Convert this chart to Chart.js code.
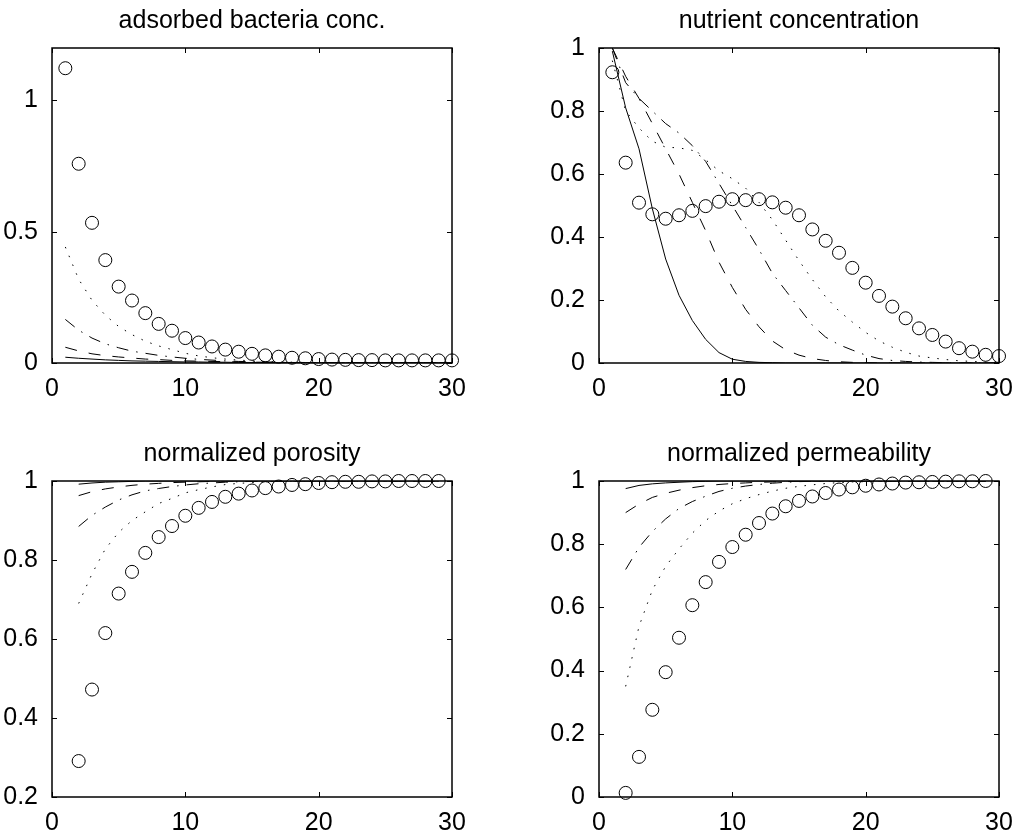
<!DOCTYPE html>
<html>
<head>
<meta charset="utf-8">
<title>Bacteria transport profiles</title>
<script src="https://cdn.jsdelivr.net/npm/chart.js@4.4.0/dist/chart.umd.min.js"></script>
<style>
    body { margin: 0; background: #fff; }
    #figure { position: relative; width: 1016px; height: 831px; }
    #figure canvas { position: absolute; }
</style>
</head>
<body>
<div id="figure">
    <canvas id="bacteriaChart" width="500" height="400" style="left:0;top:0"></canvas>
    <canvas id="nutrientChart" width="516" height="400" style="left:500px;top:0"></canvas>
    <canvas id="porosityChart" width="500" height="431" style="left:0;top:400px"></canvas>
    <canvas id="permeabilityChart" width="516" height="431" style="left:500px;top:400px"></canvas>
</div>
<script>
// Grid points
const xTop = [1, 2, 3, 4, 5, 6, 7, 8, 9, 10, 11, 12, 13, 14, 15, 16, 17, 18, 19, 20, 21, 22, 23, 24, 25, 26, 27, 28, 29, 30];
const xBottom = [2, 3, 4, 5, 6, 7, 8, 9, 10, 11, 12, 13, 14, 15, 16, 17, 18, 19, 20, 21, 22, 23, 24, 25, 26, 27, 28, 29];

// Tick labels
const xTicks = [0, 10, 20, 30];
const bacteriaTicks = [0, 0.5, 1];
const nutrientTicks = [0, 0.2, 0.4, 0.6, 0.8, 1];
const porosityTicks = [0.2, 0.4, 0.6, 0.8, 1];
const permeabilityTicks = [0, 0.2, 0.4, 0.6, 0.8, 1];

// adsorbed bacteria conc. (solid, dashed, dash-dot, dotted, circles)
const bacteriaSolid = [0.022, 0.018, 0.015, 0.012, 0.010, 0.008, 0.007, 0.006, 0.005, 0.004, 0.004, 0.003, 0.003, 0.002, 0.002, 0.002, 0.001, 0.001, 0.001, 0.001, 0.001, 0.001, 0.001, 0.001, 0.001, 0.001, 0.001, 0.001, 0.001, 0.001];
const bacteriaDashed = [0.060, 0.046, 0.035, 0.028, 0.023, 0.019, 0.015, 0.013, 0.010, 0.008, 0.007, 0.006, 0.005, 0.004, 0.003, 0.003, 0.002, 0.002, 0.001, 0.001, 0.001, 0.001, 0.001, 0.001, 0.001, 0.001, 0.001, 0.001, 0.001, 0.001];
const bacteriaDashDot = [0.166, 0.125, 0.095, 0.073, 0.058, 0.045, 0.037, 0.029, 0.023, 0.018, 0.014, 0.011, 0.008, 0.006, 0.005, 0.004, 0.003, 0.002, 0.002, 0.001, 0.001, 0.001, 0.001, 0.001, 0.001, 0.001, 0.001, 0.001, 0.001, 0.001];
const bacteriaDotted = [0.442, 0.319, 0.239, 0.182, 0.139, 0.108, 0.083, 0.065, 0.051, 0.037, 0.027, 0.020, 0.015, 0.011, 0.008, 0.006, 0.004, 0.003, 0.002, 0.002, 0.001, 0.001, 0.001, 0.001, 0.001, 0.001, 0.001, 0.001, 0.001, 0.001];
const bacteriaCircles = [1.123, 0.759, 0.534, 0.392, 0.291, 0.238, 0.190, 0.149, 0.123, 0.095, 0.078, 0.063, 0.051, 0.043, 0.035, 0.029, 0.024, 0.020, 0.018, 0.015, 0.013, 0.012, 0.011, 0.011, 0.010, 0.010, 0.010, 0.010, 0.010, 0.010];

// nutrient concentration
const nutrientSolid = [0.99, 0.81, 0.68, 0.49, 0.33, 0.215, 0.135, 0.075, 0.033, 0.012, 0.005, 0.002, 0.001, 0, 0, 0, 0, 0, 0, 0, 0, 0, 0, 0, 0, 0, 0, 0, 0, 0];
const nutrientDashed = [1.0, 0.91, 0.84, 0.76, 0.68, 0.60, 0.51, 0.42, 0.32, 0.24, 0.17, 0.115, 0.07, 0.042, 0.025, 0.014, 0.008, 0.004, 0.002, 0.001, 0, 0, 0, 0, 0, 0, 0, 0, 0, 0];
const nutrientDashDot = [1.0, 0.89, 0.84, 0.80, 0.76, 0.73, 0.69, 0.64, 0.57, 0.50, 0.43, 0.36, 0.285, 0.23, 0.175, 0.12, 0.082, 0.058, 0.041, 0.025, 0.014, 0.008, 0.005, 0.003, 0.002, 0.001, 0, 0, 0, 0];
const nutrientDotted = [0.96, 0.80, 0.746, 0.704, 0.685, 0.683, 0.675, 0.645, 0.61, 0.585, 0.555, 0.51, 0.455, 0.39, 0.325, 0.265, 0.21, 0.165, 0.13, 0.097, 0.07, 0.05, 0.034, 0.022, 0.016, 0.011, 0.007, 0.005, 0.003, 0.002];
const nutrientCircles = [0.923, 0.636, 0.509, 0.472, 0.458, 0.469, 0.483, 0.498, 0.512, 0.520, 0.517, 0.520, 0.510, 0.493, 0.469, 0.424, 0.388, 0.350, 0.302, 0.255, 0.213, 0.179, 0.142, 0.110, 0.089, 0.068, 0.047, 0.036, 0.026, 0.022];

// normalized porosity
const porositySolid = [0.992, 0.995, 0.997, 0.998, 0.999, 1, 1, 1, 1, 1, 1, 1, 1, 1, 1, 1, 1, 1, 1, 1, 1, 1, 1, 1, 1, 1, 1, 1];
const porosityDashed = [0.963, 0.973, 0.980, 0.985, 0.989, 0.992, 0.994, 0.996, 0.997, 0.998, 0.999, 1, 1, 1, 1, 1, 1, 1, 1, 1, 1, 1, 1, 1, 1, 1, 1, 1];
const porosityDashDot = [0.885, 0.913, 0.934, 0.952, 0.965, 0.975, 0.981, 0.986, 0.990, 0.993, 0.995, 0.997, 0.998, 0.999, 1, 1, 1, 1, 1, 1, 1, 1, 1, 1, 1, 1, 1, 1];
const porosityDotted = [0.69, 0.765, 0.828, 0.870, 0.900, 0.922, 0.943, 0.956, 0.970, 0.978, 0.985, 0.991, 0.994, 0.996, 0.998, 0.999, 1, 1, 1, 1, 1, 1, 1, 1, 1, 1, 1, 1];
const porosityCircles = [0.291, 0.472, 0.615, 0.715, 0.770, 0.818, 0.858, 0.886, 0.912, 0.932, 0.947, 0.960, 0.968, 0.976, 0.982, 0.986, 0.990, 0.992, 0.995, 0.997, 0.998, 0.998, 0.999, 0.999, 1, 1, 1, 1];

// normalized permeability
const permeabilitySolid = [0.976, 0.986, 0.991, 0.994, 0.996, 0.998, 0.999, 1, 1, 1, 1, 1, 1, 1, 1, 1, 1, 1, 1, 1, 1, 1, 1, 1, 1, 1, 1, 1];
const permeabilityDashed = [0.90, 0.927, 0.948, 0.961, 0.971, 0.979, 0.985, 0.989, 0.992, 0.994, 0.996, 0.997, 0.998, 0.999, 1, 1, 1, 1, 1, 1, 1, 1, 1, 1, 1, 1, 1, 1];
const permeabilityDashDot = [0.72, 0.79, 0.84, 0.88, 0.913, 0.935, 0.952, 0.967, 0.977, 0.984, 0.989, 0.993, 0.996, 0.998, 0.999, 1, 1, 1, 1, 1, 1, 1, 1, 1, 1, 1, 1, 1];
const permeabilityDotted = [0.35, 0.54, 0.655, 0.73, 0.785, 0.835, 0.875, 0.905, 0.928, 0.944, 0.957, 0.968, 0.977, 0.983, 0.988, 0.992, 0.995, 0.997, 0.998, 0.999, 1, 1, 1, 1, 1, 1, 1, 1];
const permeabilityCircles = [0.013, 0.127, 0.276, 0.395, 0.504, 0.607, 0.680, 0.744, 0.791, 0.830, 0.867, 0.897, 0.920, 0.937, 0.951, 0.962, 0.973, 0.980, 0.985, 0.989, 0.992, 0.995, 0.996, 0.997, 0.998, 0.999, 0.999, 1.0];

const FONT = "'Liberation Sans', Arial, Helvetica, sans-serif";
const FONT_SIZE = 25;

// solid, dashed, dash-dot, dotted
const lineDashes = [[], [12, 12], [12, 8, 1.5, 8], [1.5, 8]];

function toPoints(xs, ys) {
    return xs.map((x, i) => ({ x: x, y: ys[i] }));
}

// Axes box, inward ticks and title (matlab look)
const matlabBox = {
    id: 'matlabBox',
    afterDatasetsDraw(chart, args, opts) {
        const ctx = chart.ctx;
        const a = chart.chartArea;
        const sx = chart.scales.x;
        const sy = chart.scales.y;
        const tickLen = 5;

        ctx.save();
        ctx.strokeStyle = '#000';
        ctx.lineWidth = 1.5;
        ctx.strokeRect(a.left, a.top, a.right - a.left, a.bottom - a.top);

        ctx.lineWidth = 1;
        ctx.beginPath();
        sx.ticks.forEach(t => {
            const px = Math.round(sx.getPixelForValue(t.value)) + 0.5;
            ctx.moveTo(px, a.bottom);
            ctx.lineTo(px, a.bottom - tickLen);
            ctx.moveTo(px, a.top);
            ctx.lineTo(px, a.top + tickLen);
        });
        sy.ticks.forEach(t => {
            const py = Math.round(sy.getPixelForValue(t.value)) + 0.5;
            ctx.moveTo(a.left, py);
            ctx.lineTo(a.left + tickLen, py);
            ctx.moveTo(a.right, py);
            ctx.lineTo(a.right - tickLen, py);
        });
        ctx.stroke();

        ctx.fillStyle = '#000';
        ctx.font = FONT_SIZE + 'px ' + FONT;
        ctx.textAlign = 'center';
        ctx.textBaseline = 'alphabetic';
        ctx.fillText(opts.title, (a.left + a.right) / 2, a.top - 20);
        ctx.restore();
    }
};

// Build one subplot
function buildPanel(canvasId, panel) {
    const datasets = panel.lines.map((ys, i) => ({
        data: toPoints(panel.xs, ys),
        showLine: true,
        borderColor: '#000',
        borderWidth: 1,
        borderDash: lineDashes[i],
        pointRadius: 0,
        tension: 0,
        fill: false
    }));

    datasets.push({
        data: toPoints(panel.xs, panel.circles),
        showLine: false,
        pointStyle: 'circle',
        pointRadius: 6.5,
        pointBorderColor: '#000',
        pointBackgroundColor: 'rgba(0,0,0,0)',
        pointBorderWidth: 1,
        clip: false
    });

    const tickFont = { family: FONT, size: FONT_SIZE };

    return new Chart(document.getElementById(canvasId), {
        type: 'scatter',
        data: { datasets: datasets },
        plugins: [matlabBox],
        options: {
            responsive: false,
            animation: false,
            events: [],
            layout: { padding: panel.padding },
            plugins: {
                legend: { display: false },
                tooltip: { enabled: false },
                matlabBox: { title: panel.title }
            },
            scales: {
                x: {
                    type: 'linear',
                    min: 0,
                    max: 30,
                    afterBuildTicks: s => { s.ticks = xTicks.map(v => ({ value: v })); },
                    afterFit: s => { s.height = panel.xAxisHeight; },
                    grid: { display: false },
                    border: { display: false },
                    ticks: {
                        font: tickFont,
                        color: '#000',
                        padding: 3,
                        maxRotation: 0,
                        autoSkip: false,
                        callback: v => String(v)
                    }
                },
                y: {
                    type: 'linear',
                    min: panel.yMin,
                    max: panel.yMax,
                    afterBuildTicks: s => { s.ticks = panel.yTicks.map(v => ({ value: v })); },
                    afterFit: s => { s.width = panel.yAxisWidth; },
                    grid: { display: false },
                    border: { display: false },
                    ticks: {
                        font: tickFont,
                        color: '#000',
                        padding: 6,
                        autoSkip: false,
                        callback: v => String(v)
                    }
                }
            }
        }
    });
}

document.addEventListener('DOMContentLoaded', () => {
    buildPanel('bacteriaChart', {
        title: 'adsorbed bacteria conc.',
        xs: xTop,
        lines: [bacteriaSolid, bacteriaDashed, bacteriaDashDot, bacteriaDotted],
        circles: bacteriaCircles,
        yMin: 0, yMax: 1.2, yTicks: bacteriaTicks,
        yAxisWidth: 52, xAxisHeight: 37,
        padding: { left: 0, top: 48, right: 48, bottom: 0 }
    });
    buildPanel('nutrientChart', {
        title: 'nutrient concentration',
        xs: xTop,
        lines: [nutrientSolid, nutrientDashed, nutrientDashDot, nutrientDotted],
        circles: nutrientCircles,
        yMin: 0, yMax: 1, yTicks: nutrientTicks,
        yAxisWidth: 99, xAxisHeight: 37,
        padding: { left: 0, top: 48, right: 17, bottom: 0 }
    });
    buildPanel('porosityChart', {
        title: 'normalized porosity',
        xs: xBottom,
        lines: [porositySolid, porosityDashed, porosityDashDot, porosityDotted],
        circles: porosityCircles,
        yMin: 0.2, yMax: 1, yTicks: porosityTicks,
        yAxisWidth: 52, xAxisHeight: 34,
        padding: { left: 0, top: 81, right: 48, bottom: 0 }
    });
    buildPanel('permeabilityChart', {
        title: 'normalized permeability',
        xs: xBottom,
        lines: [permeabilitySolid, permeabilityDashed, permeabilityDashDot, permeabilityDotted],
        circles: permeabilityCircles,
        yMin: 0, yMax: 1, yTicks: permeabilityTicks,
        yAxisWidth: 99, xAxisHeight: 34,
        padding: { left: 0, top: 81, right: 17, bottom: 0 }
    });
});
</script>
</body>
</html>
